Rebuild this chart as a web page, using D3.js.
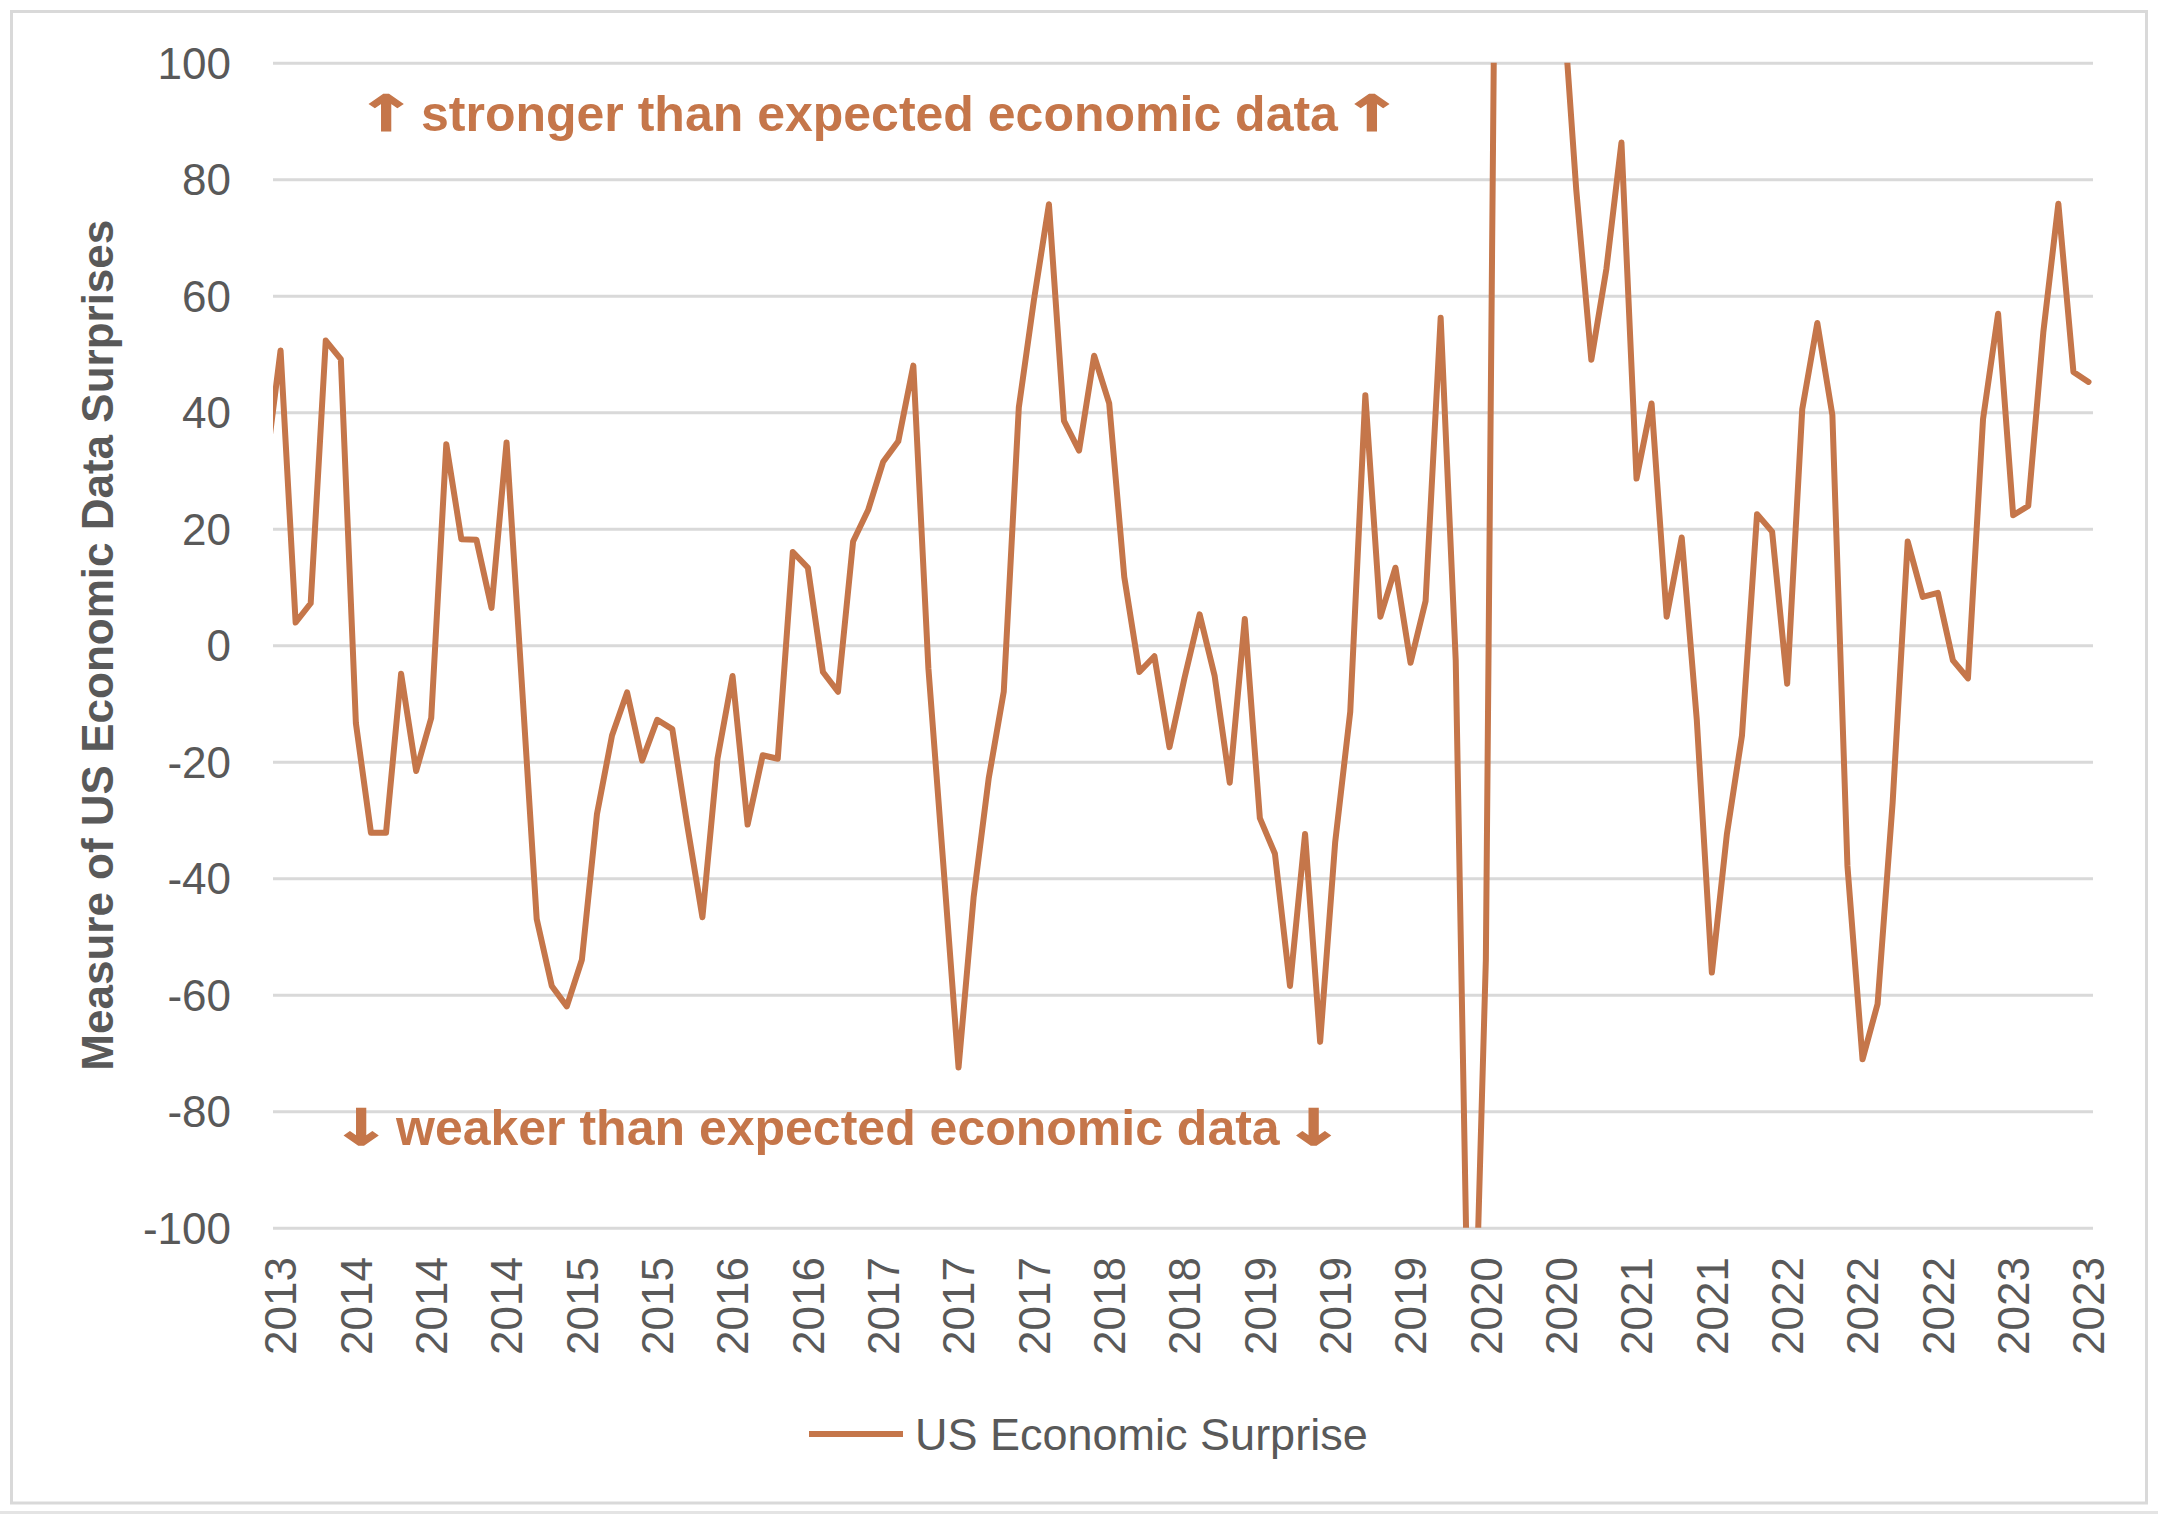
<!DOCTYPE html>
<html>
<head>
<meta charset="utf-8">
<script src="https://cdn.jsdelivr.net/npm/d3@7"></script>
<style>
  html, body { margin: 0; padding: 0; background: #ffffff; }
  svg { display: block; }
  text { font-family: "Liberation Sans", Arial, sans-serif; }
</style>
</head>
<body>
<svg id="chart" width="2158" height="1514"></svg>
<script>
// ---------------- DATA ----------------
// Monthly observations, Aug 2013 .. Sep 2023 (first point sits just left of the plot edge)
const startMonth = "2013-08";
const surpriseValues = [
  30, 50.6, 3.9, 7.2, 52.3, 49.1, -13.4, -32.2, -32.2, -4.9,
  -21.6, -12.5, 34.5, 18.2, 18.1, 6.4, 34.8, -6, -47, -58.5,
  -62, -54, -29, -15.5, -8.1, -19.8, -12.8, -14.4, -31, -46.7,
  -19.5, -5.3, -30.8, -18.9, -19.5, 16.0, 13.3, -4.6, -8.0, 17.8,
  23.2, 31.5, 35.0, 48.0, -4, -38, -72.5, -43.3, -22.9, -8,
  40.8, 59.2, 75.7, 38.5, 33.4, 49.7, 41.5, 11.7, -4.6, -1.9,
  -17.5, -5.6, 5.3, -5.3, -23.6, 4.5, -29.7, -35.8, -58.5, -32.4,
  -68.1, -33.8, -11.4, 42.9, 4.9, 13.3, -3.0, 7.6, 56.2, -2.6,
  -145, -54, 240, 270, 220, 160, 115, 78.2, 49, 64.6,
  86.3, 28.6, 41.5, 4.9, 18.5, -12.8, -56.2, -32.4, -15.5, 22.5,
  19.5, -6.6, 40.5, 55.3, 39.5, -37.9, -71.1, -61.6, -27, 17.8,
  8.3, 9.0, -2.6, -5.7, 38.8, 56.9, 22.3, 23.9, 53.7, 75.8,
  46.9, 45.2
];
// categories: one per observation (month keys)
const categories = surpriseValues.map((_, i) =>
  d3.timeFormat("%Y-%m")(d3.timeMonth.offset(d3.timeParse("%Y-%m")(startMonth), i)));
// x-axis labels every 5th category, starting at the second one
const xTickIndex = [1, 6, 11, 16, 21, 26, 31, 36, 41, 46, 51, 56, 61, 66, 71, 76, 81, 86, 91, 96, 101, 106, 111, 116, 121];
const xTickLabels = ["2013","2014","2014","2014","2015","2015","2016","2016","2017","2017","2017","2018","2018",
                     "2019","2019","2019","2020","2020","2021","2021","2022","2022","2022","2023","2023"];
const yTicks = [-100, -80, -60, -40, -20, 0, 20, 40, 60, 80, 100];
const seriesName = "US Economic Surprise";
const yTitle = "Measure of US Economic Data Surprises";
const noteUpText = "stronger than expected economic data";
const noteDownText = "weaker than expected economic data";
const arrowUp = "\u2191", arrowDown = "\u2193";

// ---------------- LAYOUT ----------------
const W = 2158, H = 1514;
const plot = { left: 273, right: 2093, top: 62.7, bottom: 1227.7 };
const lineColor = "#C5764A";
const textGray = "#595959";
const gridGray = "#D9D9D9";

const svg = d3.select("#chart");

// outer chart border
svg.append("rect").attr("x", 11.5).attr("y", 11.5).attr("width", 2135).attr("height", 1491.5)
  .attr("fill", "#fff").attr("stroke", gridGray).attr("stroke-width", 3);
svg.append("rect").attr("x", 0).attr("y", 1511).attr("width", W).attr("height", 3).attr("fill", "#E4E4E4");

// scales
const x = d3.scalePoint().domain(categories).range([265.5, 2088.5]);
const y = d3.scaleLinear().domain([-100, 100]).range([plot.bottom, plot.top]);

// gridlines + y axis labels
const yAxis = d3.axisLeft(y).tickValues(yTicks).tickSize(0).tickPadding(0)
  .tickFormat(d => (d < 0 ? "-" + Math.abs(d) : String(d)));
const gy = svg.append("g").attr("transform", `translate(${plot.left},0)`).call(yAxis);
gy.select(".domain").remove();
gy.selectAll(".tick text")
  .attr("x", 231 - plot.left)
  .attr("dy", "0.35em")
  .attr("fill", textGray)
  .style("font-size", "44px")
  .style("font-family", "'Liberation Sans', Arial, sans-serif");
gy.selectAll(".tick").append("line")
  .attr("x1", 0).attr("x2", plot.right - plot.left)
  .attr("stroke", gridGray).attr("stroke-width", 3);

// x axis labels
const xAxis = d3.axisBottom(x)
  .tickValues(xTickIndex.map(i => categories[i]))
  .tickFormat((d, i) => xTickLabels[i])
  .tickSize(0);
const gx = svg.append("g").attr("transform", `translate(0,1257)`).call(xAxis);
gx.select(".domain").remove();
gx.selectAll(".tick text")
  .attr("transform", "rotate(-90)")
  .attr("x", 0).attr("y", 0).attr("dy", "0.35em")
  .attr("text-anchor", "end")
  .attr("fill", textGray)
  .style("font-size", "44px")
  .style("font-family", "'Liberation Sans', Arial, sans-serif");

// clip
svg.append("clipPath").attr("id", "plotclip").append("rect")
  .attr("x", plot.left).attr("y", plot.top)
  .attr("width", plot.right - plot.left + 6).attr("height", plot.bottom - plot.top);

// line
const line = d3.line().x((d, i) => x(categories[i])).y(d => y(d));
svg.append("path")
  .datum(surpriseValues)
  .attr("clip-path", "url(#plotclip)")
  .attr("d", line)
  .attr("fill", "none")
  .attr("stroke", lineColor)
  .attr("stroke-width", 6)
  .attr("stroke-linejoin", "round")
  .attr("stroke-linecap", "round");

// annotations
function arrowGlyph(g, arrow, cx, baseline) {
  g.append("text")
    .attr("transform", `translate(${cx},${baseline}) scale(1.45,1)`)
    .attr("text-anchor", "middle")
    .attr("fill", lineColor)
    .attr("stroke", lineColor).attr("stroke-width", 1.2)
    .style("font-family", "'DejaVu Sans', sans-serif")
    .style("font-size", "50px").style("font-weight", "bold")
    .text(arrow);
}
function note(arrow, txt, arrowCx, textX, baseline) {
  const g = svg.append("g");
  arrowGlyph(g, arrow, arrowCx, baseline);
  const t = g.append("text").attr("x", textX).attr("y", baseline)
    .attr("fill", lineColor).style("font-size", "50px").style("font-weight", "bold")
    .text(txt);
  const endX = textX + t.node().getComputedTextLength();
  arrowGlyph(g, arrow, endX + 34, baseline);
}
note(arrowUp, noteUpText, 386, 421, 131);
note(arrowDown, noteDownText, 361, 396, 1145);

// y title
svg.append("text")
  .attr("transform", `translate(98,${(plot.top + plot.bottom) / 2}) rotate(-90)`)
  .attr("text-anchor", "middle").attr("dy", "0.35em")
  .attr("fill", textGray).style("font-size", "44px").style("font-weight", "bold")
  .text(yTitle);

// legend
const lg = svg.append("g");
lg.append("line").attr("x1", 809).attr("x2", 903).attr("y1", 1434).attr("y2", 1434)
  .attr("stroke", lineColor).attr("stroke-width", 6);
lg.append("text").attr("x", 915).attr("y", 1434).attr("dy", "0.35em")
  .attr("fill", textGray).style("font-size", "45px")
  .text(seriesName);
</script>
</body>
</html>
